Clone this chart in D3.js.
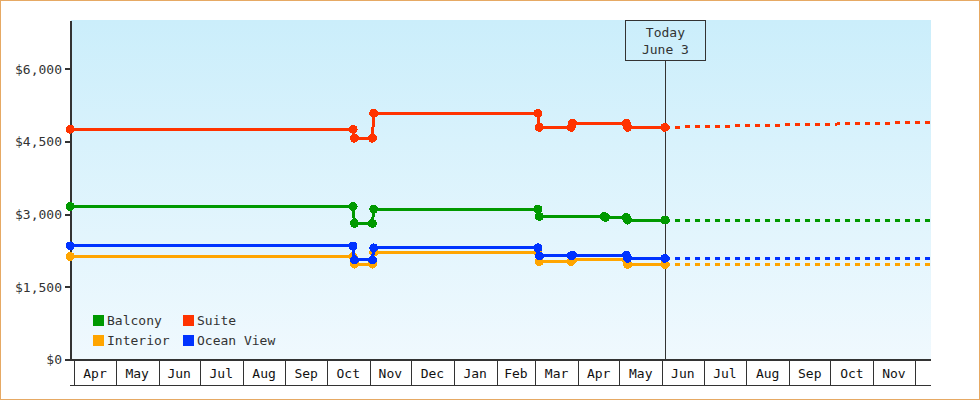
<!DOCTYPE html>
<html>
<head>
<meta charset="utf-8">
<script src="https://cdn.jsdelivr.net/npm/d3@7"></script>
<style>
  body { margin: 0; background: #fff; }
  svg { display: block; font-family: "DejaVu Sans Mono", monospace; }
</style>
</head>
<body>
<svg id="chart" width="980" height="400"></svg>
<script>
const parse = d3.timeParse("%Y-%m-%d");

// price history (dates of each change point)
const balconyDates = ["2022-03-29", "2022-10-20", "2022-10-21", "2022-11-03", "2022-11-04", "2023-03-03", "2023-03-04", "2023-04-20", "2023-04-21", "2023-05-06", "2023-05-07", "2023-06-03"];
const balconyPrices = [3170, 3170, 2820, 2820, 3115, 3115, 2965, 2965, 2945, 2945, 2890, 2890];

const otherDates = ["2022-03-29", "2022-10-20", "2022-10-21", "2022-11-03", "2022-11-04", "2023-03-03", "2023-03-04", "2023-03-27", "2023-03-28", "2023-05-06", "2023-05-07", "2023-06-03"];
const interiorPrices = [2140, 2140, 1980, 1980, 2225, 2225, 2035, 2035, 2065, 2065, 1975, 1975];
const suitePrices = [4765, 4765, 4580, 4580, 5095, 5095, 4805, 4805, 4888, 4888, 4805, 4805];
const oceanPrices = [2355, 2355, 2065, 2065, 2315, 2315, 2150, 2150, 2165, 2165, 2100, 2100];

// projection after today
const forecastDates = ["2023-06-03", "2023-12-13"];
const balconyForecast = [2890, 2890];
const interiorForecast = [1975, 1975];
const suiteForecast = [4805, 4910];
const oceanForecast = [2100, 2100];

const legendNames = ["Balcony", "Suite", "Interior", "Ocean View"];
const yTicks = [0, 1500, 3000, 4500, 6000];
const todayDate = "2023-06-03";
const todayLabel = ["Today", "June 3"];

const series = [
  { name: "Balcony", color: "#009900", dates: balconyDates, prices: balconyPrices, fc: balconyForecast },
  { name: "Interior", color: "#ffa500", dates: otherDates, prices: interiorPrices, fc: interiorForecast },
  { name: "Suite", color: "#ff3300", dates: otherDates, prices: suitePrices, fc: suiteForecast },
  { name: "Ocean View", color: "#0033ff", dates: otherDates, prices: oceanPrices, fc: oceanForecast }
];
const colorOf = Object.fromEntries(series.map(s => [s.name, s.color]));

const W = 980, H = 400;
const plotLeft = 71, plotRight = 931, plotTop = 20, plotBottom = 360;

const x = d3.scaleTime()
  .domain([new Date(2022, 2, 29, 14), new Date(2023, 11, 12, 20)])
  .range([plotLeft, plotRight]);
const y = d3.scaleLinear().domain([0, 7000]).range([plotBottom, 21]);

const svg = d3.select("#chart");

// outer frame
svg.append("rect")
  .attr("x", 0.5).attr("y", 0.5).attr("width", W - 1).attr("height", H - 1)
  .attr("fill", "#fff").attr("stroke", "#e6a964");

const grad = svg.append("defs").append("linearGradient")
  .attr("id", "bg").attr("x1", 0).attr("x2", 0).attr("y1", 0).attr("y2", 1);
grad.append("stop").attr("offset", "0%").attr("stop-color", "#cbeefb");
grad.append("stop").attr("offset", "100%").attr("stop-color", "#f0f9fe");

svg.append("rect")
  .attr("x", plotLeft).attr("y", plotTop).attr("width", plotRight - plotLeft).attr("height", plotBottom - plotTop)
  .attr("fill", "url(#bg)");

// month row under the plot
const monthStarts = d3.timeMonth.range(new Date(2022, 3, 1), new Date(2023, 11, 2));
const monthRow = svg.append("g").attr("shape-rendering", "crispEdges");
monthRow.append("g")
  .attr("transform", `translate(0,${plotBottom})`)
  .call(d3.axisBottom(x).tickValues(monthStarts).tickSize(25).tickSizeOuter(0).tickFormat("").offset(0))
  .call(g => g.select(".domain").remove())
  .call(g => g.selectAll(".tick line").attr("stroke", "#333").attr("transform", "translate(0.5,0)"));
monthRow.append("line")
  .attr("x1", 70).attr("x2", plotRight).attr("y1", 385.5).attr("y2", 385.5)
  .attr("stroke", "#333");
monthRow.append("line")
  .attr("x1", 65).attr("x2", plotRight).attr("y1", plotBottom).attr("y2", plotBottom)
  .attr("stroke", "#333").attr("stroke-width", 2);

const monthCells = monthStarts.slice(0, -1).map((d, i) => [d, monthStarts[i + 1]]);
svg.append("g")
  .selectAll("text")
  .data(monthCells)
  .join("text")
  .attr("x", d => (x(d[0]) + x(d[1])) / 2)
  .attr("y", 378)
  .attr("text-anchor", "middle")
  .attr("font-size", 13)
  .attr("fill", "#111")
  .text(d => d3.timeFormat("%b")(d[0]));

// y axis
svg.append("g")
  .attr("transform", `translate(${plotLeft},0)`)
  .call(d3.axisLeft(y).tickValues(yTicks).tickSize(6).tickPadding(3).tickSizeOuter(0).offset(0)
    .tickFormat(d => "$" + d3.format(",")(d)))
  .call(g => g.select(".domain").attr("stroke", "#333").attr("stroke-width", 2).attr("shape-rendering", "crispEdges"))
  .call(g => g.selectAll(".tick line").attr("stroke", "#333").attr("stroke-width", 2).attr("shape-rendering", "crispEdges"))
  .call(g => g.selectAll(".tick text").attr("fill", "#333").attr("font-size", 13)
    .attr("font-family", "DejaVu Sans Mono, monospace"));

// today marker
const tx = x(parse(todayDate));
svg.append("line")
  .attr("x1", Math.round(tx) + 0.5).attr("x2", Math.round(tx) + 0.5)
  .attr("y1", 60.5).attr("y2", plotBottom)
  .attr("stroke", "#333");
svg.append("rect")
  .attr("x", Math.round(tx) - 39.5).attr("y", 20.5).attr("width", 80).attr("height", 40)
  .attr("fill", "none").attr("stroke", "#333");
svg.append("g")
  .selectAll("text")
  .data(todayLabel)
  .join("text")
  .attr("x", tx + 0.5)
  .attr("y", (d, i) => 37 + i * 16.5)
  .attr("text-anchor", "middle")
  .attr("font-size", 13)
  .attr("fill", "#333")
  .text(d => d);

const line = d3.line().x(d => x(d[0])).y(d => y(d[1]));

// forecasts (dotted)
svg.append("g")
  .selectAll("path")
  .data(series)
  .join("path")
  .attr("d", s => line(forecastDates.map((d, i) => [parse(d), s.fc[i]])))
  .attr("fill", "none")
  .attr("stroke", s => s.color)
  .attr("stroke-width", 3)
  .attr("stroke-dasharray", "5,5")
  .attr("shape-rendering", "crispEdges");

// history lines + markers
series.forEach(s => {
  const pts = s.dates.map((d, i) => [parse(d), s.prices[i]]);
  const g = svg.append("g");
  g.append("path")
    .attr("d", line(pts))
    .attr("fill", "none")
    .attr("stroke", s.color)
    .attr("stroke-width", 3)
    .attr("shape-rendering", "crispEdges");
  g.selectAll("circle")
    .data(pts)
    .join("circle")
    .attr("cx", d => x(d[0]))
    .attr("cy", d => y(d[1]))
    .attr("r", 4.5)
    .attr("fill", s.color)
    .attr("shape-rendering", "crispEdges");
});

// legend
const legend = svg.append("g")
  .selectAll("g")
  .data(legendNames)
  .join("g")
  .attr("transform", (d, i) => `translate(${93 + (i % 2) * 90},${315 + Math.floor(i / 2) * 20})`);
legend.append("rect")
  .attr("width", 11).attr("height", 11)
  .attr("fill", d => colorOf[d]);
legend.append("text")
  .attr("x", 14).attr("y", 10)
  .attr("font-size", 13)
  .attr("fill", "#333")
  .text(d => d);
</script>
</body>
</html>
